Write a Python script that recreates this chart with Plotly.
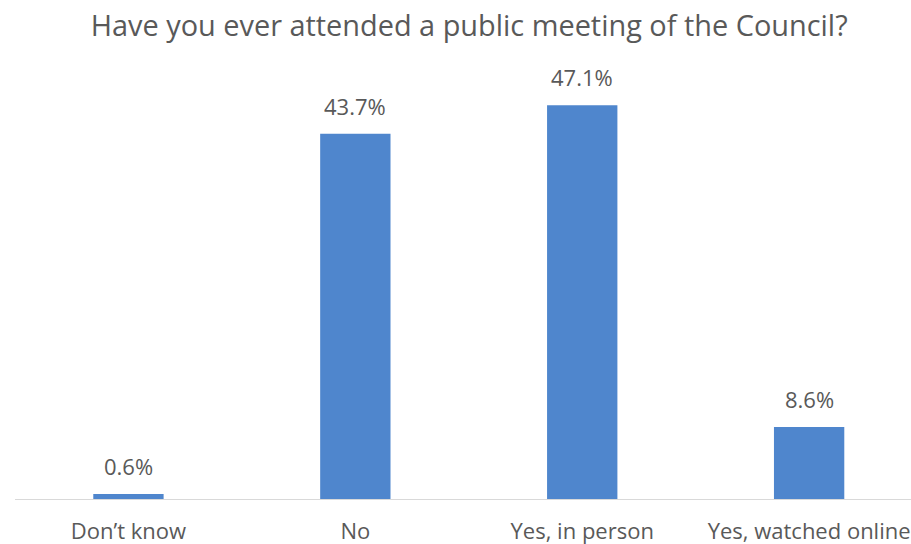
import plotly.graph_objects as go

# data
categories = ["Don’t know", "No", "Yes, in person", "Yes, watched online"]
shares = [0.6, 43.7, 47.1, 8.6]
labels = ["0.6%", "43.7%", "47.1%", "8.6%"]

title = "Have you ever attended a public meeting of the Council?"
font_family = "Open Sans, Lato, sans-serif"
text_grey = "#595959"

xpos = list(range(len(categories)))

fig = go.Figure()

fig.add_trace(go.Bar(
    x=xpos,
    y=shares,
    marker=dict(color="#4F86CD", line=dict(width=0)),
    showlegend=False,
))

# value labels sit a bit higher above the bars than plotly's own outside text
for xi, val, lab in zip(xpos, shares, labels):
    fig.add_annotation(
        x=xi, y=val, text=lab,
        showarrow=False, yanchor="bottom", yshift=11,
        font=dict(size=22, color=text_grey, family=font_family),
    )

fig.update_layout(
    width=911,
    height=544,
    margin=dict(l=15, r=0, t=81, b=45),
    plot_bgcolor="white",
    paper_bgcolor="white",
    bargap=0.69,
    title=dict(
        text=title,
        x=0.515,
        xanchor="center",
        y=0.953,
        yanchor="middle",
        font=dict(size=28.9, color=text_grey, family=font_family),
    ),
)

fig.update_xaxes(
    tickvals=xpos,
    ticktext=categories,
    range=[-0.5, 3.449],
    showline=True,
    linecolor="#D9D9D9",
    linewidth=1,
    showgrid=False,
    zeroline=False,
    ticks="outside",
    ticklen=13,
    tickcolor="rgba(0,0,0,0)",
    tickfont=dict(size=22, color=text_grey, family=font_family),
)

fig.update_yaxes(
    range=[0, 50],
    visible=False,
    showgrid=False,
    zeroline=False,
)

# drop the default 8px page margin so the figure fills the window exactly
fig.write_html(
    "out.html",
    config={"displayModeBar": False},
    post_script="document.body.style.margin='0';",
)
